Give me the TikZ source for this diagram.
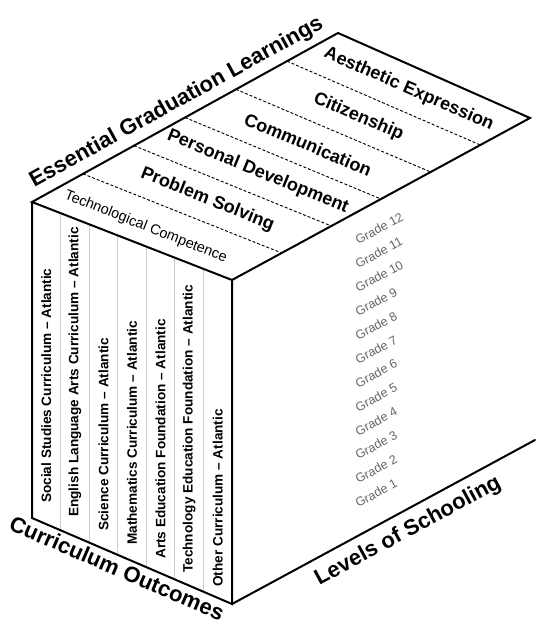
\documentclass[tikz,border=0pt]{standalone}
\usepackage{fontspec}
\setmainfont{Liberation Sans}
\usetikzlibrary{calc}
\begin{document}
\begin{tikzpicture}[x=0.75pt,y=-0.75pt,
  edge/.style={line width=1.5pt, line join=miter, line cap=round},
  sepline/.style={line width=0.7pt, draw=black!20},
  dashline/.style={line width=0.7pt, dash pattern=on 2.2pt off 1.5pt},
  toplab/.style={font=\bfseries\fontsize{13.5}{15}\selectfont, inner sep=1pt},
  techlab/.style={font=\fontsize{10.8}{13}\selectfont, inner sep=1pt},
  axislab/.style={font=\bfseries\fontsize{16.5}{19}\selectfont, inner sep=5pt},
  coltext/.style={font=\bfseries\fontsize{10.2}{12}\selectfont, inner sep=0pt, anchor=west, rotate=90},
  gradetext/.style={font=\fontsize{9.4}{11}\selectfont, text=black!60, inner sep=0pt, anchor=west, rotate=28.5}]
\useasboundingbox (0,0) rectangle (535,627);

\coordinate (L) at (32,202);
\coordinate (B) at (338,33);
\coordinate (R) at (530,118);
\coordinate (F) at (232,280);
\coordinate (Lb) at (32,518);
\coordinate (Fb) at (232,604);
\coordinate (Rb) at (535,440);

% left face separators
\foreach \k in {1,...,6}
  \draw[sepline] ($(L)!\k/7!(F)$) -- ($(Lb)!\k/7!(Fb)$);

% top face dashed dividers
\foreach \k in {1,...,5}
  \draw[dashline] ($(L)!\k/6!(B)$) -- ($(F)!\k/6!(R)$);

% cube edges
\draw[edge] (F) -- (L) -- (B) -- (R) -- cycle;
\draw[edge] (L) -- (Lb) -- (Fb) -- (F);
\draw[edge] (Fb) -- (Rb);

% top face labels
\path ($(L)!1/12!(B)$) -- node[sloped, techlab, pos=0.45, yshift=-3pt] (s0) {Technological Competence} ($(F)!1/12!(R)$);
\path ($(L)!3/12!(B)$) -- node[sloped, toplab] (s1) {Problem Solving} ($(F)!3/12!(R)$);
\path ($(L)!5/12!(B)$) -- node[sloped, toplab] (s2) {Personal Development} ($(F)!5/12!(R)$);
\path ($(L)!7/12!(B)$) -- node[sloped, toplab] (s3) {Communication} ($(F)!7/12!(R)$);
\path ($(L)!9/12!(B)$) -- node[sloped, toplab] (s4) {Citizenship} ($(F)!9/12!(R)$);
\path ($(L)!11/12!(B)$) -- node[sloped, toplab] (s5) {Aesthetic Expression} ($(F)!11/12!(R)$);

% axis labels
\path (L) -- node[sloped, axislab, above, pos=0.5] (egl) {Essential Graduation Learnings} (B);
\path (Lb) -- node[sloped, axislab, below, pos=0.45, inner sep=3pt] (co) {Curriculum Outcomes} (Fb);
\path (Fb) -- node[sloped, axislab, below, pos=0.55, inner sep=7pt] (los) {Levels of Schooling} (Rb);

% left face column texts
\node[coltext] (c0) at (46.3,503) {Social Studies Curriculum – Atlantic};
\node[coltext] (c1) at (74.9,517) {English Language Arts Curriculum – Atlantic};
\node[coltext] (c2) at (103.4,531) {Science Curriculum – Atlantic};
\node[coltext] (c3) at (132,545) {Mathematics Curriculum – Atlantic};
\node[coltext] (c4) at (160.6,559) {Arts Education Foundation – Atlantic};
\node[coltext] (c5) at (189.1,573) {Technology Education Foundation – Atlantic};
\node[coltext] (c6) at (217.7,587) {Other Curriculum – Atlantic};

% grades
\foreach \g in {1,...,12}
  \node[gradetext] (g\g) at (356,{241+(12-\g)*23.9}) {Grade \g};
\end{tikzpicture}
\end{document}
